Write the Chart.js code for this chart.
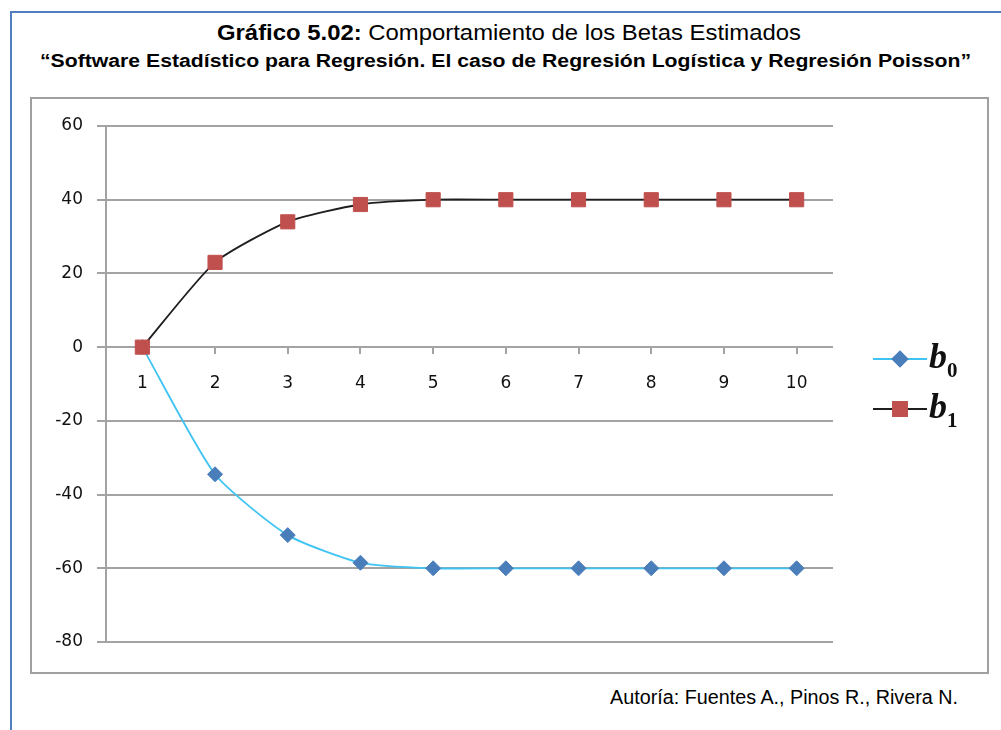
<!DOCTYPE html>
<html>
<head>
<meta charset="utf-8">
<title>Comportamiento de los Betas Estimados</title>
<script src="https://cdn.jsdelivr.net/npm/chart.js@4.4.1/dist/chart.umd.min.js"></script>
<style>
  body { margin: 0; background: #fff; }
  #page { position: relative; width: 1001px; height: 730px; overflow: hidden;
          font-family: 'Liberation Sans Narrow', 'Liberation Sans', Arial, sans-serif; }
  #frame { position: absolute; left: 10px; top: 11px; width: 1010px; height: 740px;
           border-left: 2px solid #4f7fbf; border-top: 2px solid #4f7fbf; }
  #box { position: absolute; left: 30px; top: 97px; width: 955px; height: 573px;
         border: 2px solid #a0a0a0; }
  .txt { position: absolute; white-space: nowrap; transform-origin: 0 0; color: #000; }
  #title { top: 22px; font-size: 22px; line-height: 22px; }
  #subtitle { top: 52px; font-size: 18px; line-height: 18px; font-weight: bold;
              font-family: 'Liberation Sans', Arial, sans-serif; }
  #credit { top: 687px; font-size: 20px; line-height: 20px; }
  #chart { position: absolute; left: 0; top: 0; }
</style>
</head>
<body>
<div id="page">
  <div id="frame"></div>
  <div id="box"></div>
  <div class="txt" id="title"><b>Gráfico 5.02:</b> Comportamiento de los Betas Estimados</div>
  <div class="txt" id="subtitle">“Software Estadístico para Regresión. El caso de Regresión Logística y Regresión Poisson”</div>
  <div class="txt" id="credit">Autoría: Fuentes A., Pinos R., Rivera N.</div>
  <canvas id="chart" width="1001" height="730"></canvas>
</div>
<script>
'use strict';

// iterations and estimated coefficients
let iterations = [ '1', '2', '3', '4', '5', '6', '7', '8', '9', '10' ];
let beta0 = [ 0, -34.5, -51, -58.5, -60, -60, -60, -60, -60, -60 ];
let beta1 = [ 0, 23, 34, 38.7, 40, 40, 40, 40, 40, 40 ];
let seriesNames = [ 'b0', 'b1' ];
let yTicks = { min: -80, max: 60, step: 20 };

// stretch each text line to the width it takes in the layout
function fitText( id, left, width ) {
  let el = document.getElementById( id );
  el.style.left = left + 'px';
  let w = el.getBoundingClientRect().width;
  el.style.transform = 'scaleX(' + ( width / w ) + ')';
}
fitText( 'title', 217, 584 );
fitText( 'subtitle', 40, 931 );
fitText( 'credit', 610, 348 );

const gridGray = '#a3a3a3';

// legend drawn as line + marker + italic name with subscript
const sideLegend = {
  id: 'sideLegend',
  afterDraw( chart ) {
    const ctx = chart.ctx;
    chart.data.datasets.forEach( ( ds, i ) => {
      const y = 359 + i * 50;
      ctx.save();
      ctx.strokeStyle = ds.borderColor;
      ctx.lineWidth = ds.borderWidth;
      ctx.beginPath();
      ctx.moveTo( 873, y );
      ctx.lineTo( 927, y );
      ctx.stroke();
      ctx.fillStyle = ds.pointBackgroundColor;
      ctx.strokeStyle = ds.pointBorderColor;
      Chart.helpers.drawPoint( ctx, { pointStyle: ds.pointStyle, radius: ds.pointRadius, borderWidth: 1, rotation: 0 }, 900, y );
      ctx.fillStyle = '#111';
      ctx.textBaseline = 'alphabetic';
      ctx.font = 'bold italic 36px "Liberation Serif", "DejaVu Serif", serif';
      const b = ds.label.charAt( 0 );
      ctx.fillText( b, 929, y + 9 );
      const bw = ctx.measureText( b ).width;
      ctx.font = 'bold 21px "Liberation Serif", "DejaVu Serif", serif';
      ctx.fillText( ds.label.slice( 1 ), 929 + bw, y + 18 );
      ctx.restore();
    } );
  }
};

let ctx = document.getElementById( 'chart' ).getContext( '2d' );
let betaChart = new Chart( ctx, {
  type: 'line',
  data: {
    labels: iterations,
    datasets: [ {
      label: seriesNames[0],
      data: beta0,
      borderColor: '#3ec3f2',
      borderWidth: 1.8,
      pointStyle: 'rectRot',
      pointRadius: 7.5,
      pointBackgroundColor: '#4a7ebb',
      pointBorderColor: '#4a7ebb',
      pointBorderWidth: 1,
      tension: 0.2,
      order: 1
    }, {
      label: seriesNames[1],
      data: beta1,
      borderColor: '#1e1e1e',
      borderWidth: 1.8,
      pointStyle: 'rect',
      pointRadius: 10,
      pointBackgroundColor: '#c0504d',
      pointBorderColor: '#c0504d',
      pointBorderWidth: 1,
      tension: 0.2,
      order: 0
    } ]
  },
  options: {
    responsive: false,
    animation: false,
    events: [],
    layout: { padding: { left: 0, top: 126, right: 168, bottom: 88 } },
    plugins: {
      legend: { display: false },
      tooltip: { enabled: false }
    },
    scales: {
      x: {
        type: 'category',
        position: { y: 0 },
        offset: true,
        grid: { drawOnChartArea: false, drawTicks: true, tickLength: 7, color: gridGray, lineWidth: 2 },
        border: { display: false },
        ticks: {
          color: '#111',
          padding: 19,
          maxRotation: 0,
          font: { family: '"DejaVu Sans", sans-serif', size: 17 }
        }
      },
      y: {
        min: yTicks.min,
        max: yTicks.max,
        afterFit( scale ) { scale.width = 106; },
        grid: { color: gridGray, lineWidth: 2, tickLength: 9 },
        border: { color: gridGray, width: 2 },
        ticks: {
          stepSize: yTicks.step,
          color: '#111',
          padding: 14,
          font: { family: '"DejaVu Sans", sans-serif', size: 17 }
        }
      }
    }
  },
  plugins: [ sideLegend ]
} );
</script>
</body>
</html>
